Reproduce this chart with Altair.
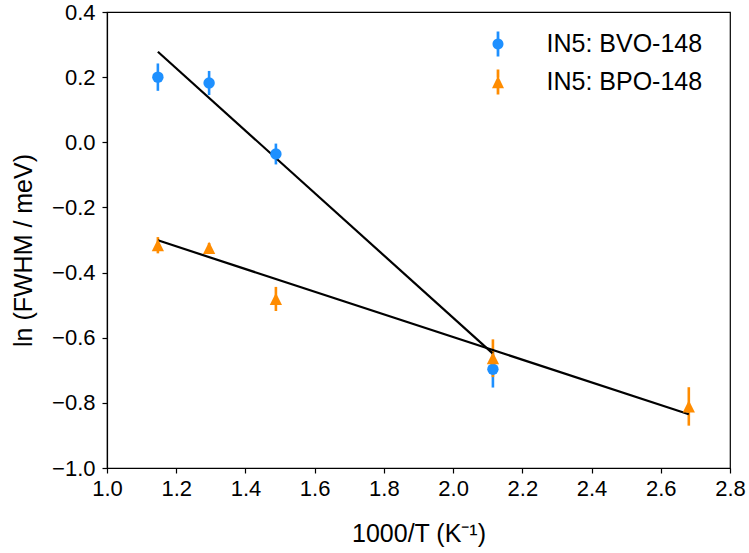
import altair as alt
import pandas as pd

# Measured linewidths, ln(FWHM / meV) against inverse temperature
series_names = ["IN5: BVO-148", "IN5: BPO-148"]
series_colors = ["#1E90FF", "#FF8C00"]

bvo_x = [1.147, 1.295, 1.488, 2.115]
bvo_y = [0.200, 0.182, -0.036, -0.697]
bvo_err = [0.042, 0.037, 0.032, 0.056]

bpo_x = [1.147, 1.295, 1.488, 2.115, 2.681]
bpo_y = [-0.316, -0.324, -0.481, -0.663, -0.811]
bpo_err = [0.025, 0.015, 0.037, 0.058, 0.059]

# Arrhenius fit lines (end points of each fitted segment)
fit_bvo_x = [1.147, 2.115]
fit_bvo_y = [0.278, -0.649]
fit_bpo_x = [1.147, 2.681]
fit_bpo_y = [-0.301, -0.835]

x_ticks = [1.0, 1.2, 1.4, 1.6, 1.8, 2.0, 2.2, 2.4, 2.6, 2.8]
y_ticks = [-1.0, -0.8, -0.6, -0.4, -0.2, 0.0, 0.2, 0.4]

FONT = "Liberation Sans"

pts = pd.concat([
    pd.DataFrame({"x": bvo_x, "y": bvo_y, "err": bvo_err, "series": series_names[0]}),
    pd.DataFrame({"x": bpo_x, "y": bpo_y, "err": bpo_err, "series": series_names[1]}),
], ignore_index=True)
pts["lo"] = pts["y"] - pts["err"]
pts["hi"] = pts["y"] + pts["err"]

fits = pd.concat([
    pd.DataFrame({"x": fit_bvo_x, "y": fit_bvo_y, "series": series_names[0]}),
    pd.DataFrame({"x": fit_bpo_x, "y": fit_bpo_y, "series": series_names[1]}),
], ignore_index=True)

xscale = alt.Scale(domain=[1.0, 2.8], nice=False, zero=False)
yscale = alt.Scale(domain=[-1.0, 0.4], nice=False, zero=False)
cscale = alt.Scale(domain=series_names, range=series_colors)

x_axis = alt.Axis(
    values=x_ticks, format=".1f", title="1000/T (K⁻¹)",
    titleX=311.5, titleY=73, titleBaseline="alphabetic", titleAnchor="middle",
)
y_axis = alt.Axis(
    values=y_ticks, format=".1f", title="ln (FWHM / meV)",
    titleX=-76, titleY=238, titleAngle=-90, titleBaseline="alphabetic",
    titleAnchor="middle",
)

X = alt.X("x:Q", scale=xscale, axis=x_axis)
Y = alt.Y("y:Q", scale=yscale, axis=y_axis)

# marker shapes in the unit square
tri_path = "M0,-1L1,1L-1,1Z"
legend_circle = (
    "M-0.44,0A0.44,0.44 0 1,1 0.44,0A0.44,0.44 0 1,1 -0.44,0Z"
    "M-0.11,-1L0.11,-1L0.11,-0.42L-0.11,-0.42Z"
    "M-0.11,0.42L0.11,0.42L0.11,1L-0.11,1Z"
)
legend_tri = (
    "M0,-0.5L0.48,0.5L-0.48,0.5Z"
    "M-0.11,-1L0.11,-1L0.11,-0.35L-0.11,-0.35Z"
    "M-0.11,0.5L0.11,0.5L0.11,1L-0.11,1Z"
)
marker_shapes = ["circle", tri_path]
marker_sizes = [130, 150]

base = alt.Chart(pts)

lines = alt.Chart(fits).mark_line(color="black", strokeWidth=2.2).encode(
    x=X, y=Y, detail="series:N"
)

layers = []
for name, col, shp, sz in zip(series_names, series_colors, marker_shapes, marker_sizes):
    sub = base.transform_filter(alt.datum.series == name)
    layers.append(sub.mark_rule(strokeWidth=2.6, color=col).encode(
        x=X, y=alt.Y("lo:Q", scale=yscale), y2="hi:Q"))
layers.append(lines)
for name, col, shp, sz in zip(series_names, series_colors, marker_shapes, marker_sizes):
    sub = base.transform_filter(alt.datum.series == name)
    layers.append(sub.mark_point(shape=shp, filled=True, opacity=1, size=sz, color=col).encode(
        x=X, y=Y))

legend_props = dict(
    title=None, orient="none", legendX=378.5, legendY=19.5,
    symbolSize=625, labelFontSize=25, labelFont=FONT, labelColor="black",
    labelOffset=36, rowPadding=12, padding=0, symbolStrokeWidth=0,
)

# legend-only layer: no rows drawn, entries come from the scale domains
legend_layer = base.transform_filter(alt.datum.x < 0).mark_point(filled=True, opacity=1).encode(
    x=X, y=Y,
    color=alt.Color("series:N", scale=cscale, legend=alt.Legend(**legend_props)),
    shape=alt.Shape("series:N",
                    scale=alt.Scale(domain=series_names, range=[legend_circle, legend_tri]),
                    legend=alt.Legend(**legend_props)),
)
layers.append(legend_layer)

chart = alt.layer(*layers).properties(
    width=623, height=456,
    autosize="none",
    padding={"left": 107, "top": 12, "right": 19, "bottom": 85},
).configure_view(
    stroke="black", strokeWidth=1.2
).configure_axis(
    grid=False, domainColor="black", domainWidth=1.2, tickColor="black", tickWidth=1.2,
    tickSize=5, labelFont=FONT, labelFontSize=22, labelColor="black",
    titleFont=FONT, titleFontSize=25, titleFontWeight="normal", titleColor="black",
    labelFlush=False, labelOverlap=False,
).configure_axisX(labelPadding=5).configure_axisY(labelPadding=7)

chart.save("out.html", embed_options={"renderer": "svg", "actions": False})
